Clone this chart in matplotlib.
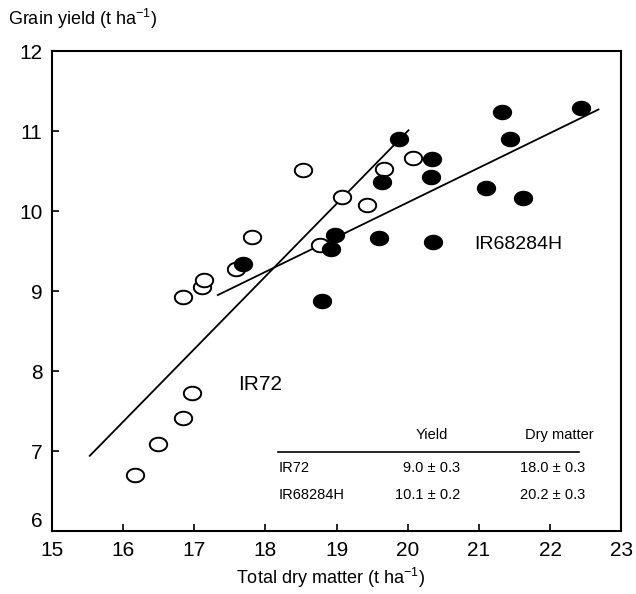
import numpy as np
import matplotlib
matplotlib.use("Agg")
import matplotlib.pyplot as plt
from matplotlib.path import Path

plt.rcParams['font.family'] = ['Liberation Sans', 'DejaVu Sans']
plt.rcParams['mathtext.fontset'] = 'custom'
plt.rcParams['mathtext.rm'] = 'Liberation Sans'

# IR72 (open circles)
ir72_x = [16.17, 16.49, 16.84, 16.97, 16.84, 17.11, 17.14, 17.59, 17.81,
          18.53, 18.77, 19.08, 19.43, 19.66, 20.08]
ir72_y = [6.70, 7.09, 7.41, 7.72, 8.92, 9.05, 9.14, 9.27, 9.68,
          10.51, 9.57, 10.17, 10.07, 10.52, 10.66]

# IR68284H (filled circles)
hyb_x = [17.69, 18.80, 18.92, 18.98, 19.60, 19.64, 19.88, 20.33, 20.34,
         20.36, 21.10, 21.33, 21.43, 21.62, 22.44]
hyb_y = [9.34, 8.88, 9.52, 9.70, 9.66, 10.36, 10.90, 10.43, 10.65,
         9.61, 10.29, 11.24, 10.90, 10.16, 11.29]

# regression line end points
ir72_line_x = [15.53, 20.01]
ir72_line_y = [6.94, 11.01]
hyb_line_x = [17.33, 22.68]
hyb_line_y = [8.95, 11.27]

# inset table
tab_cols = ['Yield', 'Dry matter']
tab_names = ['IR72', 'IR68284H']
tab_yield = ['9.0 \u00b1 0.3', '10.1 \u00b1 0.2']
tab_dm = ['18.0 \u00b1 0.3', '20.2 \u00b1 0.3']

# slightly flattened circle, like the scanned original
t = np.linspace(0, 2 * np.pi, 60)
ell = Path(np.column_stack([np.cos(t), 0.78 * np.sin(t)]), closed=True)

fig = plt.figure(figsize=(6.36, 5.94), dpi=100)
ax = fig.add_axes([0.0818, 0.106, 0.895, 0.808])

ax.plot(ir72_line_x, ir72_line_y, color='black', lw=1.3)
ax.plot(hyb_line_x, hyb_line_y, color='black', lw=1.3)
ax.plot(ir72_x, ir72_y, ls='none', marker=ell, ms=12.5, mfc='white',
        mec='black', mew=1.4)
ax.plot(hyb_x, hyb_y, ls='none', marker=ell, ms=12.5, mfc='black',
        mec='black', mew=1.4)

ax.text(17.93, 7.83, 'IR72', fontsize=15, ha='center', va='center')
ax.text(21.55, 9.58, 'IR68284H', fontsize=14, ha='center', va='center')

# table
ax.plot([18.17, 22.4], [6.99, 6.99], color='black', lw=1.2)
ax.text(20.56, 7.20, tab_cols[0], fontsize=10.5, ha='right', va='center')
ax.text(22.61, 7.20, tab_cols[1], fontsize=10.5, ha='right', va='center')
row_y = [6.79, 6.45]
for i in range(2):
    ax.text(18.18, row_y[i], tab_names[i], fontsize=10.5, ha='left', va='center')
    ax.text(20.74, row_y[i], tab_yield[i], fontsize=10.5, ha='right', va='center')
    ax.text(22.50, row_y[i], tab_dm[i], fontsize=10.5, ha='right', va='center')

ax.set_xlim(15, 23)
ax.set_ylim(6, 12)
ax.set_xticks(range(15, 24))
ax.set_yticks(range(6, 13))
ax.tick_params(direction='in', length=5, width=1.2, labelsize=15, pad=7)
for s in ax.spines.values():
    s.set_linewidth(1.5)
ax.get_yticklabels()[0].set_va('bottom')

fig.text(0.52, 0.027, 'Total dry matter (t ha$^{-1}$)', fontsize=13,
         ha='center', va='center')
fig.text(0.012, 0.968, 'Grain yield (t ha$^{-1}$)', fontsize=13,
         ha='left', va='center')

fig.savefig('out.png', dpi=100)
